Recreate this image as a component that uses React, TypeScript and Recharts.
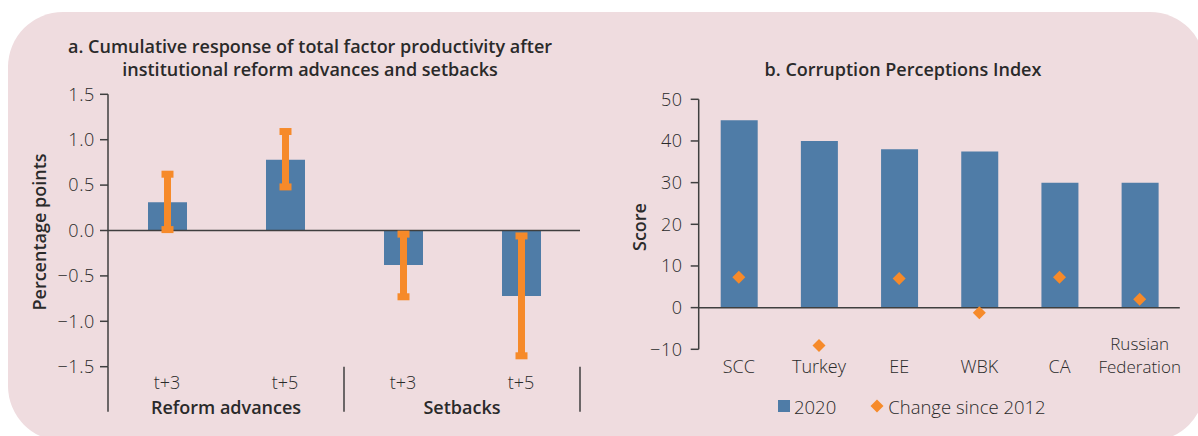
import React from 'react';
import { BarChart, ComposedChart, Bar, Line, XAxis, YAxis, ReferenceLine, ErrorBar } from 'recharts';

// panel a: TFP response
const periods = ['t+3', 't+5', 't+3', 't+5'];
const groups = ['Reform advances', 'Reform advances', 'Setbacks', 'Setbacks'];
const tfpResponse = [0.31, 0.78, -0.38, -0.72];
const tfpLow = [0.01, 0.48, -0.73, -1.38];
const tfpHigh = [0.62, 1.09, -0.04, -0.06];
const tfpTicks = [-1.5, -1, -0.5, 0, 0.5, 1, 1.5];

// panel b: CPI
const economies = ['SCC', 'Turkey', 'EE', 'WBK', 'CA', 'Russian Federation'];
const cpi2020 = [45, 40, 38, 37.5, 30, 30];
const cpiChange = [7.3, -9.1, 7, -1.2, 7.3, 2];
const cpiTicks = [-10, 0, 10, 20, 30, 40, 50];
const seriesNames = ['2020', 'Change since 2012'];

const BLUE = '#4f7ca7';
const ORANGE = '#f68a2a';
const AXIS = '#3f3f3f';
const TEXT = '#2a2a2a';
const FONT = '"Open Sans", Lato, sans-serif';

const tfpData = periods.map((p, i) => ({
  key: `${groups[i]} ${p}`,
  value: tfpResponse[i],
  err: [tfpResponse[i] - tfpLow[i], tfpHigh[i] - tfpResponse[i]],
}));

const cpiData = economies.map((e, i) => ({
  name: e,
  score: cpi2020[i],
  change: cpiChange[i],
}));

const fmtMinus = (v: number, digits: number) =>
  (v < 0 ? '\u2212' : '') + Math.abs(v).toFixed(digits);

const HALF_STEP = 59;

const PeriodTick = (props: any) => {
  const { x, y, index } = props;
  const groupStart = index % 2 === 0;
  const last = index === periods.length - 1;
  return (
    <g>
      <text x={x} y={y + 15} textAnchor="middle" dominantBaseline="central"
        fontFamily={FONT} fontWeight={300} fontSize={18} fill={TEXT}>
        {periods[index]}
      </text>
      {groupStart && (
        <text x={x + HALF_STEP} y={y + 40} textAnchor="middle" dominantBaseline="central"
          fontFamily={FONT} fontWeight={600} fontSize={18} fill={TEXT}>
          {groups[index]}
        </text>
      )}
      {groupStart && (
        <line x1={x - HALF_STEP} x2={x - HALF_STEP} y1={y} y2={y + 45} stroke={AXIS} strokeWidth={1.5} />
      )}
      {last && (
        <line x1={x + HALF_STEP} x2={x + HALF_STEP} y1={y} y2={y + 45} stroke={AXIS} strokeWidth={1.5} />
      )}
    </g>
  );
};

// long names wrap onto two lines, last line sits with the others
const EconomyTick = (props: any) => {
  const { x, y, payload } = props;
  const wrap = payload.value.length > 10;
  const words: string[] = wrap ? payload.value.split(' ') : [payload.value];
  const gap = 23;
  return (
    <text x={x} y={y + 17 - (words.length - 1) * gap} textAnchor="middle" dominantBaseline="central"
      fontFamily={FONT} fontWeight={300} fontSize={wrap ? 17 : 18} fill={TEXT}>
      {words.map((w, i) => (
        <tspan key={w} x={x} dy={i === 0 ? 0 : gap}>{w}</tspan>
      ))}
    </text>
  );
};

const Diamond = (props: any) => {
  const { cx, cy } = props;
  if (cx == null || cy == null) return null;
  const r = 6.5;
  return <polygon points={`${cx},${cy - r} ${cx + r},${cy} ${cx},${cy + r} ${cx - r},${cy}`} fill={ORANGE} />;
};

const centered = (x: number, y: number, extra: React.CSSProperties = {}): React.CSSProperties => ({
  position: 'absolute',
  left: x,
  top: y,
  transform: 'translate(-50%, -50%)',
  whiteSpace: 'nowrap',
  fontFamily: FONT,
  color: TEXT,
  ...extra,
});

const tickStyle = { fill: TEXT, fontSize: 18, fontFamily: FONT, fontWeight: 300, letterSpacing: 0.6 };

export default function App() {
  return (
    <div style={{ position: 'absolute', left: 0, top: 0, width: 1198, height: 436, overflow: 'hidden', background: '#fff' }}>
      <div style={{ position: 'absolute', left: 8, top: 12, width: 1197, height: 429, borderRadius: 55, background: '#efdcdf' }} />

      {/* panel a */}
      <div style={centered(310, 58, { fontSize: 18, fontWeight: 600, lineHeight: '23px', textAlign: 'center' })}>
        a. Cumulative response of total factor productivity after<br />
        institutional reform advances and setbacks
      </div>
      <div style={centered(39, 232, { fontSize: 18, fontWeight: 600, transform: 'translate(-50%, -50%) rotate(-90deg)' })}>
        Percentage points
      </div>
      <div style={{ position: 'absolute', left: 0, top: 0 }}>
        <BarChart width={600} height={436} data={tfpData} margin={{ top: 94.3, right: 20, bottom: 39.3, left: 0 }}>
          <XAxis dataKey="key" height={30} axisLine={false} tickLine={false} tickSize={0} tickMargin={0}
            interval={0} tick={<PeriodTick />} />
          <YAxis width={108} domain={[-1.5, 1.5]} ticks={tfpTicks} interval={0} type="number"
            axisLine={{ stroke: AXIS, strokeWidth: 1.5 }} tickLine={{ stroke: AXIS, strokeWidth: 1.5 }}
            tickSize={8} tickMargin={5} tickFormatter={(v: number) => fmtMinus(v, 1)} tick={tickStyle} />
          <ReferenceLine y={0} stroke={AXIS} strokeWidth={1.5} />
          <Bar dataKey="value" fill={BLUE} barSize={39} isAnimationActive={false}>
            <ErrorBar dataKey="err" width={6} stroke={ORANGE} strokeWidth={7} isAnimationActive={false} />
          </Bar>
        </BarChart>
      </div>

      {/* panel b */}
      <div style={centered(903, 69, { fontSize: 18, fontWeight: 600 })}>b. Corruption Perceptions Index</div>
      <div style={centered(639, 227, { fontSize: 18, fontWeight: 600, transform: 'translate(-50%, -50%) rotate(-90deg)' })}>
        Score
      </div>
      <div style={{ position: 'absolute', left: 600, top: 0 }}>
        <ComposedChart width={598} height={436} data={cpiData} margin={{ top: 99.3, right: 18.2, bottom: 56.7, left: 0 }}>
          <XAxis dataKey="name" height={30} axisLine={false} tickLine={false} tickSize={0} tickMargin={0}
            interval={0} tick={<EconomyTick />} />
          <YAxis width={98.7} domain={[-10, 50]} ticks={cpiTicks} interval={0} type="number"
            axisLine={{ stroke: AXIS, strokeWidth: 1.5 }} tickLine={{ stroke: AXIS, strokeWidth: 1.5 }}
            tickSize={8} tickMargin={8} tickFormatter={(v: number) => fmtMinus(v, 0)} tick={tickStyle} />
          <ReferenceLine y={0} stroke={AXIS} strokeWidth={1.5} />
          <Bar dataKey="score" name={seriesNames[0]} fill={BLUE} barSize={37} isAnimationActive={false} />
          <Line dataKey="change" name={seriesNames[1]} stroke="none" dot={<Diamond />} activeDot={false}
            isAnimationActive={false} />
        </ComposedChart>
      </div>

      {/* legend */}
      <div style={{ position: 'absolute', left: 778, top: 396, height: 20, display: 'flex', alignItems: 'center',
        fontFamily: FONT, fontWeight: 300, fontSize: 18.5, color: TEXT }}>
        <span style={{ width: 12, height: 12, background: BLUE, display: 'inline-block', marginRight: 4 }} />
        <span style={{ marginRight: 34 }}>{seriesNames[0]}</span>
        <svg width={14} height={14} style={{ marginRight: 4 }}>
          <polygon points="7,0.5 13.5,7 7,13.5 0.5,7" fill={ORANGE} />
        </svg>
        <span>{seriesNames[1]}</span>
      </div>
    </div>
  );
}
